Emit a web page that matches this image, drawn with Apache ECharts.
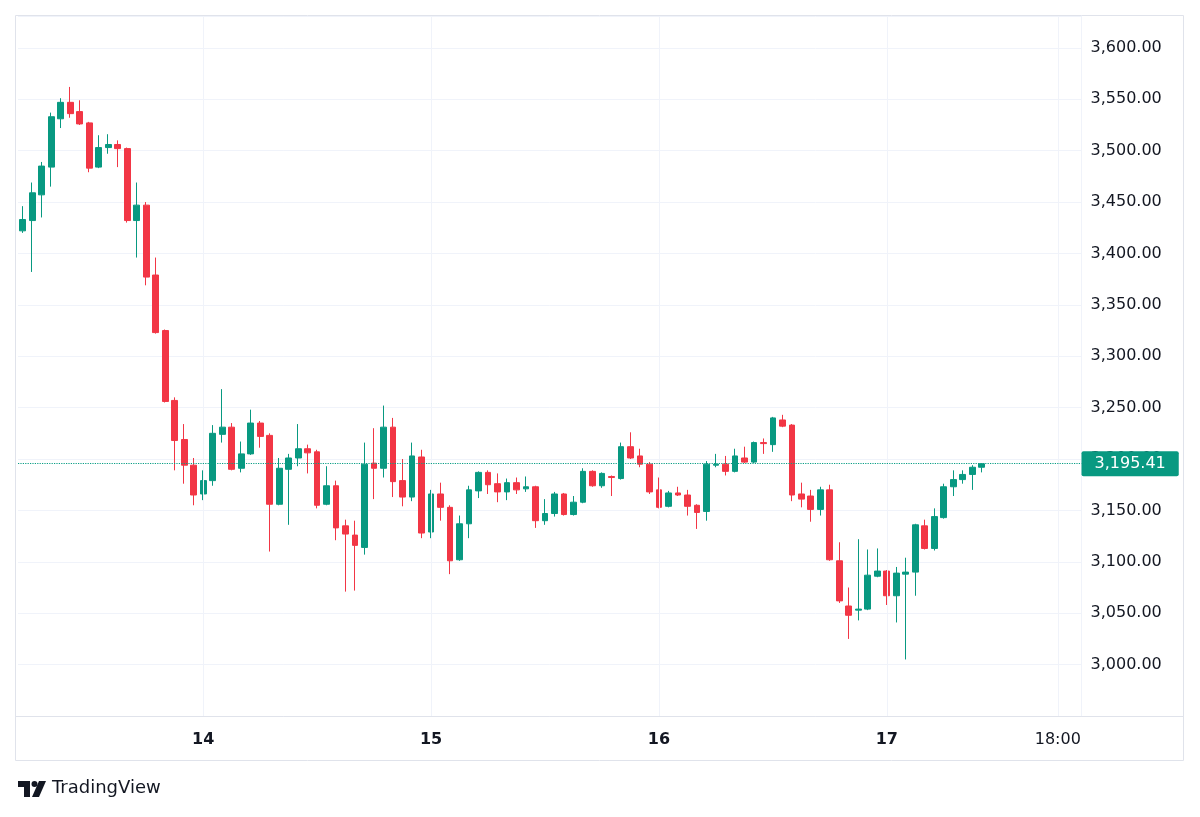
<!DOCTYPE html>
<html>
<head>
<meta charset="utf-8">
<script src="https://cdn.jsdelivr.net/npm/echarts@6/dist/echarts.min.js"></script>
<style>
  html, body { margin: 0; padding: 0; background: #fff; }
  #chart { width: 1200px; height: 817px; }
</style>
</head>
<body>
<div id="chart"></div>
<script>
// hourly candles, first one is the 13th 05:00
const startDay = 13;
const startHour = 5;
const slotCount = 112; // empty hours after the last candle, up to the price scale

const opens = [
  3422, 3432, 3457, 3484, 3531, 3547, 3538, 3527, 3484, 3503, 3506, 3502, 3432, 3447, 3379, 3325, 3257, 3219, 3194,
  3166, 3179, 3224, 3231, 3191, 3205, 3235, 3223, 3156, 3190, 3201, 3210, 3207, 3156, 3174, 3135, 3126, 3114, 3196, 3191, 3231, 3179, 3163, 3202,
  3129, 3166, 3153, 3102, 3137, 3169, 3187, 3176, 3168, 3177, 3171, 3173, 3140, 3147, 3166, 3146, 3158, 3188, 3174, 3183, 3181, 3212, 3203, 3195,
  3170, 3154, 3167, 3165, 3155, 3149, 3194, 3195, 3188, 3201, 3197, 3216, 3214, 3238, 3233, 3166, 3164, 3151, 3170, 3101, 3057, 3053, 3054, 3086,
  3091, 3067, 3088, 3090, 3135, 3113, 3143, 3173, 3180, 3185, 3192
];
const closes = [
  3433, 3459, 3485, 3533, 3547, 3536, 3526, 3483, 3503, 3506, 3502, 3432, 3447, 3377, 3323, 3256, 3218, 3194, 3165,
  3179, 3225, 3231, 3190, 3205, 3235, 3222, 3156, 3191, 3201, 3210, 3206, 3155, 3174, 3133, 3127, 3116, 3195, 3191, 3231, 3178, 3163, 3203, 3128,
  3166, 3153, 3101, 3137, 3170, 3187, 3175, 3168, 3177, 3170, 3173, 3140, 3147, 3166, 3146, 3158, 3188, 3174, 3186, 3182, 3212, 3201, 3195, 3168,
  3153, 3167, 3165, 3154, 3148, 3195, 3195, 3188, 3203, 3197, 3216, 3215, 3240, 3232, 3165, 3161, 3151, 3170, 3102, 3062, 3048, 3054, 3087, 3091,
  3067, 3089, 3090, 3136, 3113, 3144, 3173, 3180, 3185, 3192, 3195.41
];
const lows = [
  3420, 3382, 3435, 3465, 3522, 3532, 3525, 3479, 3483, 3497, 3484, 3430, 3396, 3369, 3322, 3255, 3189, 3176, 3155,
  3160, 3174, 3216, 3189, 3187, 3204, 3211, 3110, 3155, 3136, 3193, 3186, 3152, 3155, 3121, 3071, 3072, 3107, 3161, 3182, 3163, 3154, 3159, 3123,
  3123, 3140, 3088, 3101, 3123, 3162, 3166, 3158, 3160, 3166, 3168, 3133, 3136, 3144, 3145, 3145, 3157, 3173, 3172, 3164, 3180, 3200, 3192, 3166,
  3152, 3153, 3164, 3145, 3132, 3140, 3192, 3184, 3187, 3196, 3196, 3205, 3207, 3231, 3159, 3153, 3139, 3145, 3101, 3060, 3025, 3043, 3053, 3085,
  3058, 3041, 3005, 3067, 3112, 3111, 3142, 3164, 3176, 3170, 3187
];
const highs = [
  3446, 3469, 3489, 3537, 3551, 3562, 3549, 3528, 3515, 3516, 3510, 3503, 3469, 3450, 3396, 3326, 3260, 3234, 3201,
  3189, 3233, 3268, 3235, 3217, 3248, 3237, 3225, 3201, 3205, 3234, 3214, 3209, 3193, 3179, 3141, 3140, 3216, 3230, 3252, 3240, 3200, 3216, 3209,
  3170, 3177, 3155, 3145, 3174, 3188, 3189, 3186, 3181, 3182, 3183, 3174, 3161, 3168, 3167, 3164, 3191, 3189, 3187, 3184, 3216, 3226, 3210, 3197,
  3182, 3169, 3173, 3170, 3156, 3198, 3205, 3203, 3210, 3212, 3217, 3220, 3241, 3243, 3234, 3177, 3170, 3173, 3175, 3119, 3075, 3122, 3112, 3113,
  3092, 3095, 3104, 3137, 3141, 3152, 3176, 3189, 3189, 3194, 3196
];

// time scale marks: category -> label
const tickLabels = {
  '14 00:00': '14',
  '15 00:00': '15',
  '16 00:00': '16',
  '17 00:00': '17',
  '17 18:00': '18:00'
};

const UP = '#089981';
const DOWN = '#F23645';
const GRID = '#f0f3fa';
const BORDER = '#e0e3eb';
const TEXT = '#131722';
const FONT = 'DejaVu Sans';

const pad = n => (n < 10 ? '0' : '') + n;
const categories = [];
for (let i = 0; i < slotCount; i++) {
  const h = startHour + i;
  categories.push((startDay + Math.floor(h / 24)) + ' ' + pad(h % 24) + ':00');
}
const candles = opens.map((o, i) => [o, closes[i], lows[i], highs[i]]);
const lastPrice = closes[closes.length - 1];

const fmt = v => v.toLocaleString('en-US', { minimumFractionDigits: 2, maximumFractionDigits: 2 });
const isMark = (idx, val) => tickLabels[val] !== undefined;

const chart = echarts.init(document.getElementById('chart'));

chart.setOption({
  backgroundColor: '#fff',
  animation: false,
  grid: { left: 18, right: 118.5, top: 16, bottom: 101 },
  xAxis: {
    type: 'category',
    data: categories,
    boundaryGap: true,
    axisLine: { lineStyle: { color: BORDER } },
    axisTick: { show: false },
    splitLine: { show: false },
    axisLabel: {
      interval: isMark,
      margin: 16,
      fontFamily: FONT,
      fontSize: 16,
      color: TEXT,
      formatter: v => {
        const t = tickLabels[v];
        return t.indexOf(':') >= 0 ? '{t|' + t + '}' : '{d|' + t + '}';
      },
      rich: {
        d: { fontFamily: FONT, fontSize: 16, fontWeight: 'bold', color: TEXT },
        t: { fontFamily: FONT, fontSize: 16, color: TEXT }
      }
    }
  },
  yAxis: {
    type: 'value',
    position: 'right',
    min: 2950,
    max: 3631,
    interval: 50,
    axisLine: { show: true, lineStyle: { color: GRID } },
    axisTick: { show: false },
    splitLine: { lineStyle: { color: GRID } },
    axisLabel: {
      margin: 9,
      fontFamily: FONT,
      fontSize: 16,
      color: TEXT,
      showMinLabel: false,
      showMaxLabel: false,
      formatter: fmt
    }
  },
  series: [
    {
      // vertical grid lines on the day marks
      type: 'line',
      data: [],
      z: 0,
      silent: true,
      markLine: {
        silent: true,
        symbol: 'none',
        label: { show: false },
        lineStyle: { color: GRID, type: 'solid', width: 1 },
        data: Object.keys(tickLabels).map(k => ({ xAxis: k }))
      }
    },
    {
      type: 'candlestick',
      data: candles,
      barWidth: '66%',
      itemStyle: {
        color: UP,
        color0: DOWN,
        borderColor: UP,
        borderColor0: DOWN,
        borderWidth: 1
      }
    },
    {
      // last price line with its label on the price scale
      type: 'line',
      data: [],
      color: UP,
      z: 5,
      silent: true,
      markLine: {
        silent: true,
        symbol: 'none',
        lineStyle: { color: '#0a9e85', type: 'dotted', width: 1.2 },
        label: {
          show: true,
          position: 'end',
          distance: 0,
          formatter: () => fmt(lastPrice),
          backgroundColor: UP,
          borderRadius: 2,
          color: '#fff',
          fontFamily: FONT,
          fontSize: 16,
          lineHeight: 17,
          padding: [4, 13, 4, 13]
        },
        data: [{ yAxis: lastPrice }]
      }
    }
  ],
  graphic: [
    {
      type: 'rect',
      shape: { x: 15.5, y: 15.5, width: 1168, height: 745 },
      style: { fill: null, stroke: BORDER, lineWidth: 1 },
      silent: true
    },
    {
      type: 'line',
      shape: { x1: 15, y1: 716.5, x2: 1183, y2: 716.5 },
      style: { stroke: BORDER, lineWidth: 1 },
      silent: true
    },
    {
      type: 'group',
      left: 18,
      top: 781,
      children: [
        { type: 'polygon', shape: { points: [[0, 0], [12, 0], [12, 16], [6, 16], [6, 6], [0, 6]] }, style: { fill: TEXT } },
        { type: 'circle', shape: { cx: 16.5, cy: 3, r: 3 }, style: { fill: TEXT } },
        { type: 'polygon', shape: { points: [[21, 0], [28, 0], [21, 16], [14, 16]] }, style: { fill: TEXT } }
      ]
    },
    {
      type: 'text',
      left: 52,
      top: 779,
      style: { text: 'TradingView', fontFamily: FONT, fontSize: 18, fill: TEXT }
    }
  ]
});
</script>
</body>
</html>
